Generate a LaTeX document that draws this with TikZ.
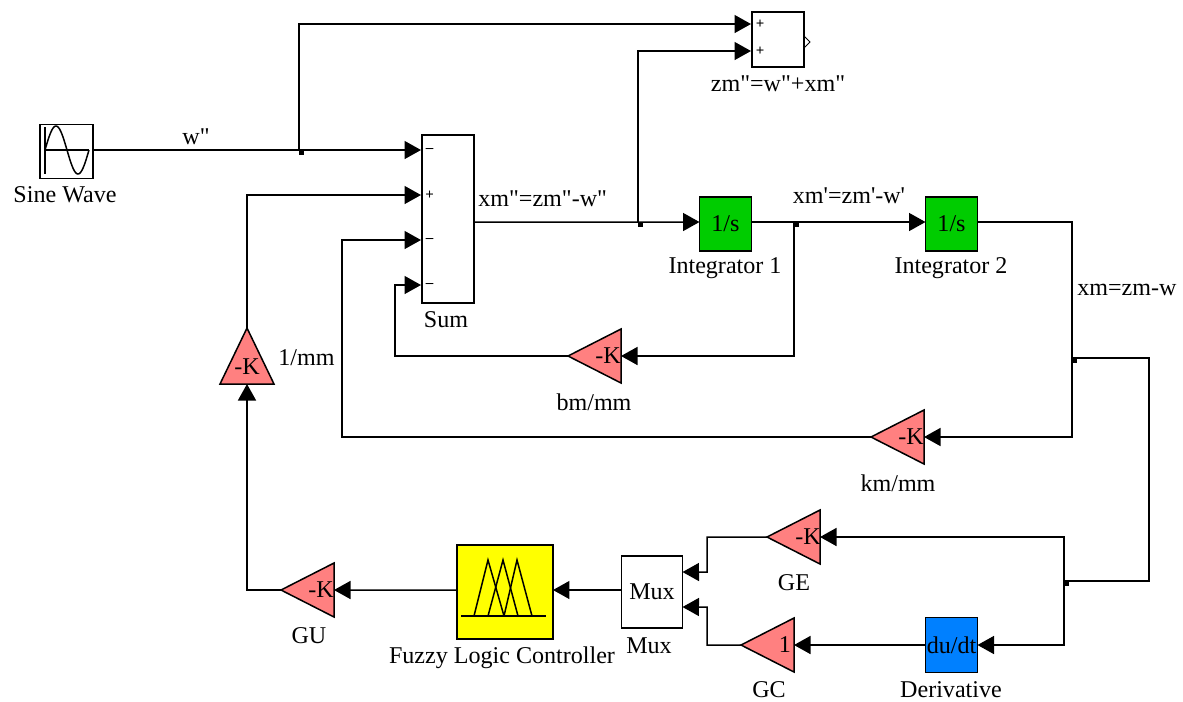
\documentclass[tikz,border=0pt]{standalone}
\usepackage{fontspec}
\setmainfont{Liberation Serif}[Ligatures=TeXOff]
\usetikzlibrary{arrows.meta,shapes.geometric}
\definecolor{gainred}{RGB}{255,128,128}
\definecolor{intgreen}{RGB}{0,204,0}
\definecolor{derblue}{RGB}{0,128,255}
\definecolor{flcyellow}{RGB}{255,255,0}
\tikzset{
  txt/.style={inner sep=0pt,font=\fontsize{13.7}{16}\selectfont},
  sign/.style={inner sep=0pt,font=\fontsize{8.5}{9}\selectfont\bfseries},
  block/.style={draw=black,line width=0.03cm,minimum width=1.04cm,minimum height=1.08cm,inner sep=0pt,outer sep=0pt,font=\fontsize{13.7}{16}\selectfont},
  gain/.style={isosceles triangle,isosceles triangle stretches,draw=black,fill=gainred,line width=0.03cm,inner sep=0pt,outer sep=0pt,minimum width=1.08cm,minimum height=1.06cm,anchor=lower side},
  wire/.style={line width=0.03cm,-{Triangle[length=0.33cm,width=0.36cm]}},
  bus/.style={line width=0.03cm},
  dot/.style={fill=black,inner sep=0pt,minimum size=0.1cm,outer sep=0pt}
}
\begin{document}
\begin{tikzpicture}[x=0.02cm,y=0.02cm]
\useasboundingbox (0,0) rectangle (1183,-701);

\node [block,minimum width=1.06cm] (sine) at (66.5,-151.5) {};
\draw [line width=0.025cm] (45,-127) -- (45,-174);
\draw [line width=0.025cm] (45,-150) -- (89,-150);
\draw [line width=0.03cm] plot [domain=0:1,samples=40] ({45+44*\x},{-150+24*sin(360*\x)});
\node [txt] (sineName) at (65,-195) {Sine Wave};

\node [block,minimum height=3.36cm] (sum) at (448,-219) {};
\node [txt] (sumName) at (446,-320) {Sum};
\foreach \name/\y/\s in {A/150/–,B/195/+,C/240/–,D/285/–} {
  \coordinate (sum\name) at (421,-\y);
  \node [sign] (sign\name) at (429.5,-\y) {\s};
}

\node [block,minimum height=1.1cm] (zm) at (778,-39.5) {};
\coordinate (zmA) at (751,-24);
\coordinate (zmB) at (751,-51);
\node [sign] (signE) at (760,-24) {+};
\node [sign] (signF) at (760,-51) {+};
\draw [line width=0.02cm] (zm.east |- 0,-36) -- (810,-42) -- (zm.east |- 0,-48);
\node [txt] (zmName) at (778,-84) {zm"=w"+xm"};

\node [block,fill=intgreen] (intA) at (725.5,-224) {1/s};
\node [txt] (intAName) at (725,-268) {Integrator 1};
\node [block,fill=intgreen] (intB) at (951.5,-224) {1/s};
\node [txt] (intBName) at (951,-268) {Integrator 2};

\node [block,fill=derblue,minimum height=1.1cm] (der) at (951.5,-645) {du/dt};
\node [txt] (derName) at (951,-690) {Derivative};

\node [block,minimum width=1.22cm,minimum height=1.44cm] (mux) at (652,-592) {Mux};
\node [txt] (muxName) at (649,-646) {Mux};

\node [block,fill=flcyellow,minimum width=1.92cm,minimum height=1.88cm] (flc) at (505,-592) {};
\draw [line width=0.03cm] (461,-616) -- (546,-616);
\draw [line width=0.03cm] (474,-616) -- (488,-560) -- (504,-616);
\draw [line width=0.03cm] (488,-616) -- (503,-560) -- (518,-616);
\draw [line width=0.03cm] (504,-616) -- (517,-560) -- (532,-616);
\node [txt] (flcName) at (502,-658) {Fuzzy Logic Controller};

\node [gain,shape border rotate=180] (gc) at (794,-645) {};
\node [txt] (gcVal) at (785,-645) {1};
\node [txt] (gcName) at (769,-690) {GC};
\node [gain,shape border rotate=180] (ge) at (820,-537) {};
\node [txt] (geVal) at (808,-537) {-K};
\node [txt] (geName) at (794,-583) {GE};
\node [gain,shape border rotate=180] (gu) at (334,-590) {};
\node [txt] (guVal) at (321,-590) {-K};
\node [txt] (guName) at (309,-636) {GU};
\node [gain,shape border rotate=180] (km) at (924,-437) {};
\node [txt] (kmVal) at (911,-437) {-K};
\node [txt] (kmName) at (898,-483) {km/mm};
\node [gain,shape border rotate=180] (bm) at (621,-356) {};
\node [txt] (bmVal) at (608,-356) {-K};
\node [txt] (bmName) at (594,-402) {bm/mm};
\node [gain,shape border rotate=90,minimum height=1.12cm] (mm) at (247,-384) {};
\node [txt] (mmVal) at (247,-367) {-K};
\node [txt,anchor=west] (mmName) at (278,-358) {1/mm};

\node [txt] (wName) at (196,-137) {w"};
\node [txt,anchor=west] (accName) at (478,-199) {xm"=zm"-w"};
\node [txt] (velName) at (849,-196) {xm'=zm'-w'};
\node [txt,anchor=west] (posName) at (1077,-290) {xm=zm-w};

\coordinate (sineOut) at (93,-150);
\coordinate (jA) at (299,-150);
\coordinate (jB) at (638,-222);
\coordinate (jC) at (794,-222);
\coordinate (jD) at (1072,-358);
\coordinate (jE) at (1064,-581);
\coordinate (busR) at (1149,-470);
\coordinate (bendC) at (342,-300);
\coordinate (bendD) at (395,-320);
\coordinate (muxA) at ([yshift=0.4cm]mux.east);
\coordinate (muxB) at ([yshift=-0.3cm]mux.east);
\coordinate (bendA) at (707,-572);
\coordinate (bendB) at (707,-607);

\node [dot] (dotA) at (301,-152) {};
\node [dot] (dotB) at (640,-224) {};
\node [dot] (dotC) at (796,-224) {};
\node [dot] (dotD) at (1074,-360) {};
\node [dot] (dotE) at (1066,-583) {};

\draw [wire] (sineOut) -- (sumA);
\draw [wire] (jA) |- (zmA);
\draw [wire] ([yshift=-0.06cm]sum.east) -- ([yshift=0.04cm]intA.west);
\draw [wire] (jB) |- (zmB);
\draw [wire] ([yshift=0.04cm]intA.east) -- ([yshift=0.04cm]intB.west);
\draw [wire] (jC) |- (bm.lower side);
\draw [wire] (bm.apex) -| (bendD) |- (sumD);
\draw [wire] ([yshift=0.04cm]intB.east) -| (jD) |- (km.lower side);
\draw [wire] (km.apex) -| (bendC) |- (sumC);
\draw [bus] (jD) -| (busR) |- (jE);
\draw [wire] (jE) |- (ge.lower side);
\draw [wire] (jE) |- (der.east);
\draw [wire] (der.west) -- (gc.lower side);
\draw [wire] (ge.apex) -| (bendA) -- (muxA);
\draw [wire] (gc.apex) -| (bendB) -- (muxB);
\draw [wire] ([yshift=0.04cm]mux.west) -- ([yshift=0.04cm]flc.east);
\draw [wire] ([yshift=0.04cm]flc.west) -- (gu.lower side);
\draw [wire] (gu.apex) -| (mm.lower side);
\draw [wire] (mm.apex) |- (sumB);
\end{tikzpicture}
\end{document}
